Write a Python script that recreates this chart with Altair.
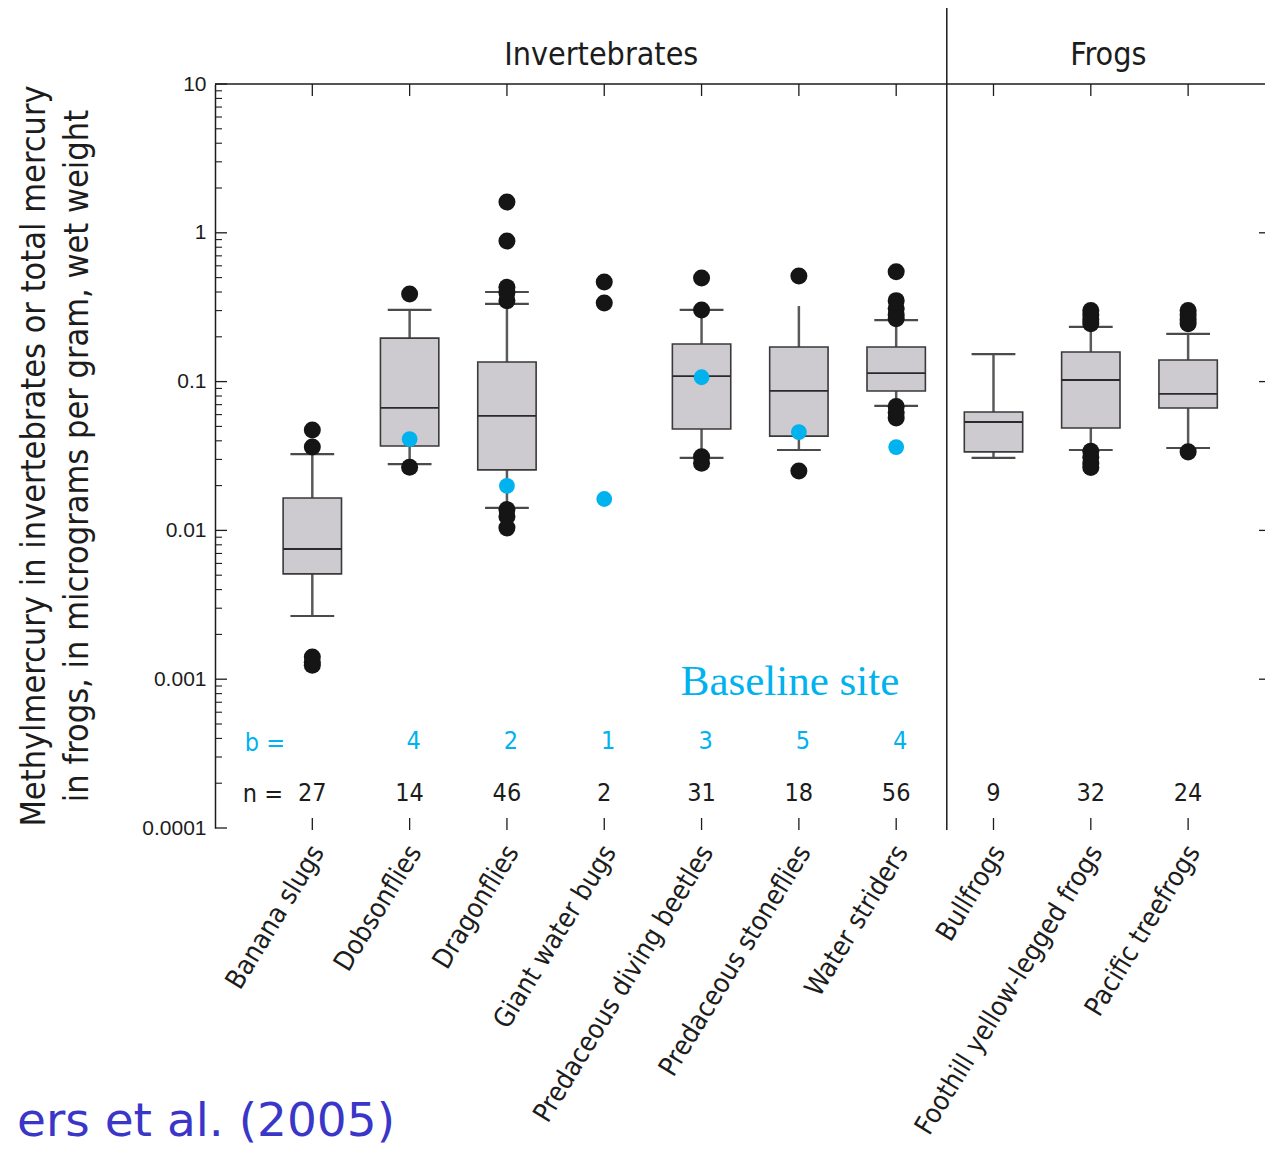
import altair as alt
import pandas as pd

# ---------------- data ----------------
categories = ["Banana slugs", "Dobsonflies", "Dragonflies", "Giant water bugs",
              "Predaceous diving beetles", "Predaceous stoneflies", "Water striders",
              "Bullfrogs", "Foothill yellow-legged frogs", "Pacific treefrogs"]
positions = [1, 2, 3, 4, 5, 6, 7, 8, 9, 10]
n_counts = ["27", "14", "46", "2", "31", "18", "56", "9", "32", "24"]
b_counts = ["", "4", "2", "1", "3", "5", "4", "", "", ""]

# box statistics (None = no box drawn)
q1 = [0.0051, 0.0369, 0.0255, None, 0.048, 0.043, 0.0865, 0.0337, 0.0488, 0.0665]
median = [0.0075, 0.0665, 0.0588, None, 0.109, 0.0865, 0.114, 0.0535, 0.1025, 0.0826]
q3 = [0.0165, 0.196, 0.1355, None, 0.179, 0.171, 0.171, 0.0625, 0.158, 0.1397]
whisker_lo = [0.00266, 0.0279, 0.01416, None, 0.0307, 0.0347, 0.0686, 0.0307, 0.0347, 0.0358]
whisker_hi = [0.0326, 0.303, 0.400, None, 0.303, 0.322, 0.259, 0.153, 0.233, 0.209]

# whisker caps (category position, value)
cap_pos = [1, 1, 2, 2, 3, 3, 3, 5, 5, 6, 7, 7, 8, 8, 9, 9, 10, 10]
cap_val = [0.0326, 0.00266, 0.303, 0.0279, 0.400, 0.333, 0.01416, 0.303, 0.0307,
           0.0347, 0.259, 0.0686, 0.153, 0.0307, 0.233, 0.0347, 0.209, 0.0358]

# outliers / individual samples (black dots)
out_pos = [1, 1, 1, 1, 1,
           2, 2,
           3, 3, 3, 3, 3, 3, 3, 3,
           4, 4,
           5, 5, 5, 5,
           6, 6,
           7, 7, 7, 7, 7, 7, 7, 7,
           9, 9, 9, 9, 9, 9, 9, 9,
           10, 10, 10, 10, 10]
out_val = [0.0473, 0.0363, 0.00141, 0.0013, 0.00124,
           0.388, 0.0266,
           1.61, 0.881, 0.43, 0.396, 0.35, 0.0138, 0.0124, 0.0104,
           0.467, 0.337,
           0.497, 0.303, 0.0312, 0.0283,
           0.513, 0.0251,
           0.548, 0.35, 0.31, 0.28, 0.265, 0.068, 0.062, 0.057,
           0.30, 0.28, 0.26, 0.245, 0.034, 0.031, 0.028, 0.0265,
           0.30, 0.28, 0.26, 0.245, 0.0337]

# baseline-site values (blue dots)
base_pos = [2, 3, 4, 5, 6, 7]
base_val = [0.0411, 0.0199, 0.01625, 0.107, 0.0458, 0.0363]

major_ticks = [0.0001, 0.001, 0.01, 0.1, 1, 10]
minor_ticks = [0.0002, 0.0003, 0.0004, 0.0005, 0.0006, 0.0007, 0.0008, 0.0009,
               0.002, 0.003, 0.004, 0.005, 0.006, 0.007, 0.008, 0.009,
               0.02, 0.03, 0.04, 0.05, 0.06, 0.07, 0.08, 0.09,
               0.2, 0.3, 0.4, 0.5, 0.6, 0.7, 0.8, 0.9,
               2, 3, 4, 5, 6, 7, 8, 9]
right_ticks = [0.001, 0.01, 0.1, 1]

groups = ["Invertebrates", "Frogs"]
group_center = [3.97, 9.18]
separator_pos = [7.52]

y_title = ["Methylmercury in invertebrates or total mercury",
           "in frogs, in micrograms per gram, wet weight"]

# ---------------- styling ----------------
W, H = 1050, 744
NARROW = "DejaVu Sans Condensed, sans-serif"
DARK = "#1c1c1c"
BLUE = "#00b2ee"

xs = alt.Scale(domain=[0, 10.79], nice=False, zero=False)
ys = alt.Scale(type="log", domain=[0.0001, 10], nice=False)

cat_df = pd.DataFrame({"pos": positions, "cat": categories, "n": n_counts, "b": b_counts})
box_df = pd.DataFrame({"pos": positions, "q1": q1, "med": median, "q3": q3,
                       "lo": whisker_lo, "hi": whisker_hi}).dropna()
cap_df = pd.DataFrame({"pos": cap_pos, "v": cap_val})
out_df = pd.DataFrame({"pos": out_pos, "v": out_val})
base_df = pd.DataFrame({"pos": base_pos, "v": base_val})

X = lambda f: alt.X(f, type="quantitative", scale=xs, axis=None)

whiskers = alt.Chart(box_df).mark_rule(color="#5a5a5a", strokeWidth=2.5).encode(
    x=X("pos"),
    y=alt.Y("lo:Q", scale=ys,
            axis=alt.Axis(values=major_ticks, format="~g", ticks=False, grid=False,
                          domain=True, domainColor=DARK, domainWidth=1.5,
                          labelFont="Liberation Sans", labelFontSize=21,
                          labelColor=DARK, labelPadding=9, title="")),
    y2="hi:Q",
)

caps = alt.Chart(cap_df).transform_calculate(
    l="datum.pos - 0.225", r="datum.pos + 0.225"
).mark_rule(color="#4a4a4a", strokeWidth=2.2).encode(
    x=X("l"), x2="r:Q", y=alt.Y("v:Q", scale=ys))

boxes = alt.Chart(box_df).transform_calculate(
    l="datum.pos - 0.3", r="datum.pos + 0.3"
).mark_rect(fill="#cdcbcf", stroke="#3a3a3a", strokeWidth=1.6).encode(
    x=X("l"), x2="r:Q", y=alt.Y("q1:Q", scale=ys), y2="q3:Q")

medians = alt.Chart(box_df).transform_calculate(
    l="datum.pos - 0.3", r="datum.pos + 0.3"
).mark_rule(color="#2a2a2a", strokeWidth=1.8).encode(
    x=X("l"), x2="r:Q", y=alt.Y("med:Q", scale=ys))

outliers = alt.Chart(out_df).mark_circle(size=290, color="#151515", opacity=1).encode(
    x=X("pos"), y=alt.Y("v:Q", scale=ys))

baseline = alt.Chart(base_df).mark_circle(size=250, color=BLUE, opacity=1).encode(
    x=X("pos"), y=alt.Y("v:Q", scale=ys))

# inward axis ticks
left_major = alt.Chart(pd.DataFrame({"v": major_ticks})).mark_rule(color=DARK, strokeWidth=1.3).encode(
    x=alt.value(0), x2=alt.value(12), y=alt.Y("v:Q", scale=ys))
left_minor = alt.Chart(pd.DataFrame({"v": minor_ticks})).mark_rule(color=DARK, strokeWidth=1.1).encode(
    x=alt.value(0), x2=alt.value(7), y=alt.Y("v:Q", scale=ys))
right_major = alt.Chart(pd.DataFrame({"v": right_ticks})).mark_rule(color=DARK, strokeWidth=1.3).encode(
    x=alt.value(W - 6), x2=alt.value(W), y=alt.Y("v:Q", scale=ys))
top_ticks = alt.Chart(cat_df).mark_rule(color=DARK, strokeWidth=1.3).encode(
    x=X("pos"), y=alt.value(0), y2=alt.value(12))
bottom_ticks = alt.Chart(cat_df).mark_rule(color=DARK, strokeWidth=1.3).encode(
    x=X("pos"), y=alt.value(734), y2=alt.value(746))

top_border = alt.Chart(pd.DataFrame({"a": [0]})).mark_rule(color=DARK, strokeWidth=1.5).encode(
    x=alt.value(0), x2=alt.value(W), y=alt.value(0))
separator = alt.Chart(pd.DataFrame({"pos": separator_pos})).mark_rule(color=DARK, strokeWidth=1.5).encode(
    x=X("pos"), y=alt.value(-79), y2=alt.value(746))

headers = alt.Chart(pd.DataFrame({"pos": group_center, "g": groups})).mark_text(
    font=NARROW, fontSize=32, color=DARK, baseline="middle", align="center").encode(
    x=X("pos"), y=alt.value(-29), text="g:N")

n_text = alt.Chart(cat_df).mark_text(font=NARROW, fontSize=25, color=DARK,
                                     baseline="middle", align="center").encode(
    x=X("pos"), y=alt.value(709), text="n:N")
b_text = alt.Chart(cat_df).mark_text(font=NARROW, fontSize=25, color=BLUE,
                                     baseline="middle", align="center", dx=4).encode(
    x=X("pos"), y=alt.value(657), text="b:N")
n_lab = alt.Chart(pd.DataFrame({"t": ["n ="]})).mark_text(
    font=NARROW, fontSize=25, color=DARK, baseline="middle", align="right").encode(
    x=alt.value(68), y=alt.value(710), text="t:N")
b_lab = alt.Chart(pd.DataFrame({"t": ["b ="]})).mark_text(
    font=NARROW, fontSize=25, color=BLUE, baseline="middle", align="right").encode(
    x=alt.value(70), y=alt.value(659), text="t:N")

x_labels = alt.Chart(cat_df).transform_calculate(xl="datum.pos + 0.06").mark_text(
    font=NARROW, fontSize=27, color=DARK, angle=301.5, align="right", baseline="middle").encode(
    x=X("xl"), y=alt.value(764), text="cat:N")

ytitle = alt.Chart(pd.DataFrame({"t": y_title, "x": [-180, -137]})).mark_text(
    font=NARROW, fontSize=34, color=DARK, angle=270, align="center", baseline="middle").encode(
    x=alt.X("x:Q", scale=None), y=alt.value(372), text="t:N")

baseline_lab = alt.Chart(pd.DataFrame({"t": ["Baseline site"]})).mark_text(
    font="Liberation Serif", fontSize=43, color=BLUE, baseline="middle", align="center").encode(
    x=alt.value(575), y=alt.value(598), text="t:N")

source = alt.Chart(pd.DataFrame({"t": ["ers et al. (2005)"]})).mark_text(
    font="DejaVu Sans", fontSize=47, color="#3a36c8", baseline="alphabetic", align="right").encode(
    x=alt.value(180), y=alt.value(1052), text="t:N")

chart = alt.layer(
    whiskers, caps, boxes, medians, outliers, baseline,
    left_major, left_minor, right_major, top_ticks, bottom_ticks,
    top_border, separator, headers, n_text, b_text, n_lab, b_lab,
    x_labels, ytitle, baseline_lab, source,
).properties(
    width=W, height=H,
    autosize=alt.AutoSizeParams(type="none"),
    padding={"left": 207, "top": 76, "right": 0, "bottom": 318},
).configure_view(stroke=None).resolve_scale(x="shared", y="shared")

chart.save("out.html", embed_options={"renderer": "svg", "actions": False})
